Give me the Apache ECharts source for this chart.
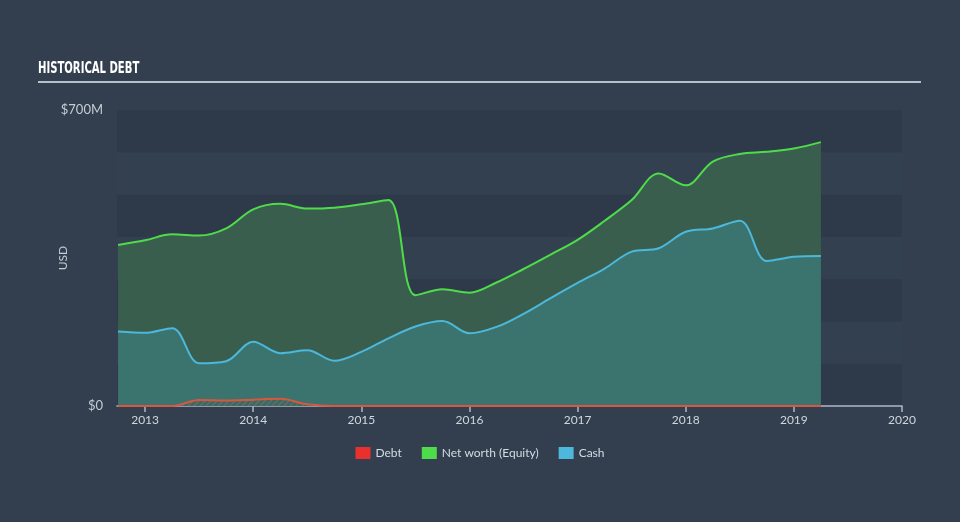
<!DOCTYPE html>
<html>
<head>
<meta charset="utf-8">
<script src="https://cdn.jsdelivr.net/npm/echarts@6/dist/echarts.min.js"></script>
<style>
html,body{margin:0;padding:0;background:#333f4f;}
#chart{width:960px;height:522px;}
</style>
</head>
<body>
<div id="chart"></div>
<script>
// Quarter-end dates as decimal years
const periods = [2012.75, 2013.0, 2013.25, 2013.5, 2013.75, 2014.0, 2014.25, 2014.5, 2014.75, 2015.0,
  2015.25, 2015.5, 2015.75, 2016.0, 2016.25, 2016.5, 2016.75, 2017.0, 2017.25, 2017.5,
  2017.75, 2018.0, 2018.25, 2018.5, 2018.75, 2019.0, 2019.25];
// values in $M
const equity = [381, 392, 406, 403, 420, 465, 478, 467, 469, 477,
  487, 262, 276, 268, 292, 324, 358, 393, 438, 487,
  550, 522, 578, 596, 601, 609, 624];
const cash = [176, 173, 184, 101, 106, 152, 125, 132, 107, 128,
  160, 188, 201, 172, 187, 218, 255, 291, 325, 365,
  373, 412, 420, 438, 343, 353, 355];
const debt = [0, 0, 0, 14, 13, 15, 17, 4, 0, 0,
  0, 0, 0, 0, 0, 0, 0, 0, 0, 0,
  0, 0, 0, 0, 0, 0, 0];
const yearTicks = [2013, 2014, 2015, 2016, 2017, 2018, 2019, 2020];
const yTickLabels = {0: '$0', 700: '$700M'};

function pairs(vals){ return periods.map((p,i)=>[p, vals[i]]); }

// hatch pattern for debt area
const pat = document.createElement('canvas');
pat.width = 6; pat.height = 6;
const pc = pat.getContext('2d');
pc.fillStyle = '#3b6a64'; pc.fillRect(0,0,6,6);
pc.strokeStyle = '#6e6e66'; pc.lineWidth = 1.2;
pc.beginPath(); pc.moveTo(0,6); pc.lineTo(6,0); pc.moveTo(-3,3); pc.lineTo(3,-3); pc.moveTo(3,9); pc.lineTo(9,3); pc.stroke();

const chart = echarts.init(document.getElementById('chart'), null, {renderer:'canvas'});
chart.setOption({
  backgroundColor: '#333f4f',
  animation: false,
  graphic: [
    {
      type:'text', x:38, y:61, scaleX:0.7, scaleY:1,
      style:{text:'HISTORICAL DEBT', fill:'#ffffff', font:"bold 16px 'DejaVu Sans Condensed', 'Liberation Sans', sans-serif"}
    },
    {
      type:'line', shape:{x1:38, y1:82, x2:921, y2:82},
      style:{stroke:'#b8c0ca', lineWidth:2}
    },
    {
      type:'text', x:63, y:258, rotation:Math.PI/2,
      style:{text:'USD', fill:'#c5ccd4', font:"12px Lato", align:'center', verticalAlign:'middle'}
    }
  ],
  legend: {
    bottom: 58, left: 'center', itemWidth: 15, itemHeight: 12, itemGap: 20,
    icon: 'rect',
    textStyle: {color:'#d5dbe2', fontFamily:'Lato', fontSize:12},
    data: ['Debt', 'Net worth (Equity)', 'Cash']
  },
  grid: {left:117, right:58, top:110, bottom:116},
  xAxis: {
    type:'value', min:2012.74, max:2020,
    axisLine:{show:true, lineStyle:{color:'#aeb8c5', width:1.5}},
    axisTick:{show:true, customValues: yearTicks, length:6, lineStyle:{color:'#aeb8c5', width:1.5}},
    axisLabel:{customValues: yearTicks, color:'#d0d6dd', fontFamily:'Lato', fontSize:12, margin:8,
      formatter: v => String(Math.round(v))},
    splitLine:{show:false}
  },
  yAxis: {
    type:'value', min:0, max:700, interval:100,
    axisLine:{show:false}, axisTick:{show:false},
    axisLabel:{color:'#c5ccd4', fontFamily:'Lato', fontSize:13, margin:14,
      formatter: v => (yTickLabels[v] !== undefined ? yTickLabels[v] : '')},
    splitLine:{show:false},
    splitArea:{show:true, areaStyle:{color:['#2e3a4a','#334050']}}
  },
  series: [
    {
      name:'Net worth (Equity)', type:'line', data: pairs(equity), showSymbol:false,
      smooth:0.35,
      lineStyle:{color:'#4fdc4a', width:2}, itemStyle:{color:'#4fdc4a'},
      areaStyle:{color:'#3a5e4e', opacity:1}, z:2
    },
    {
      name:'Cash', type:'line', data: pairs(cash), showSymbol:false,
      smooth:0.35,
      lineStyle:{color:'#4bb8dc', width:2}, itemStyle:{color:'#4bb8dc'},
      areaStyle:{color:'#3b736f', opacity:1}, z:3
    },
    {
      name:'Debt', type:'line', data: pairs(debt), showSymbol:false,
      smooth:0.35,
      lineStyle:{color:'#d9573f', width:2}, itemStyle:{color:'#e8312c'},
      areaStyle:{color:{image:pat, repeat:'repeat'}, opacity:1}, z:4
    }
  ]
});
</script>
</body>
</html>
